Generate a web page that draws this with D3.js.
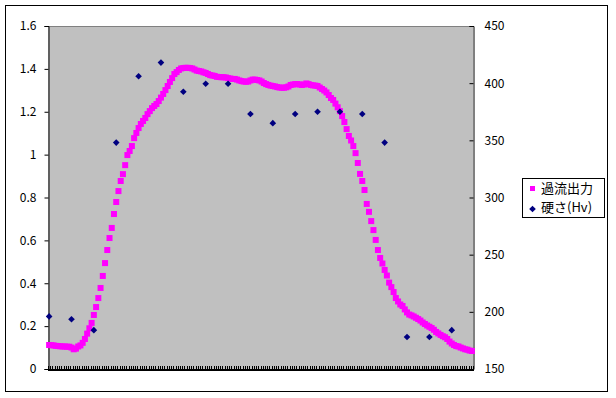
<!DOCTYPE html>
<html>
<head>
<meta charset="utf-8">
<script src="https://cdn.jsdelivr.net/npm/d3@7"></script>
<style>
  body { margin: 0; background: #fff; }
  text { font-family: "Noto Sans CJK JP", "DejaVu Sans", sans-serif; font-size: 12px; fill: #000; }
</style>
</head>
<body>
<div id="chart"></div>
<script>
// eddy current output (left axis), one value per category
const eddyOutput = [
  0.112, 0.111, 0.110, 0.108, 0.107, 0.106, 0.105, 0.105, 0.104, 0.104,
  0.100, 0.092, 0.095, 0.105, 0.110, 0.122, 0.140, 0.165, 0.190, 0.215,
  0.252, 0.289, 0.331, 0.378, 0.434, 0.494, 0.555, 0.611, 0.658, 0.723,
  0.779, 0.830, 0.877, 0.909, 0.951, 0.998, 1.017, 1.040, 1.077, 1.101,
  1.124, 1.143, 1.157, 1.171, 1.189, 1.203, 1.217, 1.227, 1.236, 1.250,
  1.266, 1.283, 1.301, 1.320, 1.339, 1.357, 1.376, 1.385, 1.395, 1.402,
  1.404, 1.405, 1.405, 1.404, 1.402, 1.397, 1.392, 1.390, 1.388, 1.384,
  1.381, 1.376, 1.371, 1.369, 1.367, 1.363, 1.362, 1.361, 1.361, 1.360,
  1.357, 1.355, 1.353, 1.353, 1.350, 1.346, 1.343, 1.341, 1.340, 1.341,
  1.346, 1.350, 1.350, 1.348, 1.346, 1.341, 1.334, 1.329, 1.325, 1.322,
  1.320, 1.318, 1.315, 1.313, 1.312, 1.312, 1.314, 1.318, 1.325, 1.327,
  1.329, 1.329, 1.327, 1.325, 1.327, 1.332, 1.329, 1.325, 1.323, 1.322,
  1.320, 1.313, 1.306, 1.299, 1.290, 1.278, 1.264, 1.255, 1.238, 1.221,
  1.203, 1.180, 1.152, 1.119, 1.087, 1.066, 1.040, 1.007, 0.961, 0.910,
  0.877, 0.835, 0.770, 0.733, 0.690, 0.648, 0.602, 0.555, 0.518, 0.492,
  0.462, 0.436, 0.403, 0.382, 0.359, 0.331, 0.315, 0.301, 0.294, 0.278,
  0.264, 0.254, 0.250, 0.245, 0.239, 0.233, 0.226, 0.217, 0.210, 0.203,
  0.197, 0.191, 0.183, 0.173, 0.166, 0.159, 0.153, 0.148, 0.140, 0.128,
  0.119, 0.112, 0.107, 0.105, 0.100, 0.096, 0.092, 0.090, 0.086, 0.084
];

// hardness (right axis), measured every 10th category
const hardnessIndex = [0, 10, 20, 30, 40, 50, 60, 70, 80, 90, 100, 110, 120, 130, 140, 150, 160, 170, 180];
const hardness = [196, 193.5, 184, 348, 406, 418, 392.5, 399.5, 399.5, 373, 365, 373, 375, 375, 373, 348, 178, 178, 184];

const leftTicks = [0, 0.2, 0.4, 0.6, 0.8, 1, 1.2, 1.4, 1.6];
const rightTicks = [150, 200, 250, 300, 350, 400, 450];
const seriesNames = ["過流出力", "硬さ(Hv)"];

const width = 616;
const height = 398;
const plot = { left: 48, right: 473, top: 26, bottom: 369 };

const svg = d3.select("#chart").append("svg")
  .attr("width", width)
  .attr("height", height);

// outer frame
svg.append("rect")
  .attr("x", 5.5).attr("y", 5.5)
  .attr("width", 602).attr("height", 386)
  .attr("fill", "#fff").attr("stroke", "#000");

// plot area
svg.append("rect")
  .attr("x", plot.left).attr("y", plot.top)
  .attr("width", plot.right - plot.left).attr("height", plot.bottom - plot.top)
  .attr("fill", "#c0c0c0");
svg.append("line")
  .attr("x1", plot.left).attr("x2", plot.right)
  .attr("y1", plot.top + 0.5).attr("y2", plot.top + 0.5)
  .attr("stroke", "#808080");

const categories = d3.range(eddyOutput.length);
const x = d3.scaleBand()
  .domain(categories)
  .range([plot.left, plot.right]);

const yLeft = d3.scaleLinear().domain([0, 1.6]).range([plot.bottom, plot.top]);
const yRight = d3.scaleLinear().domain([150, 450]).range([plot.bottom, plot.top]);

// left axis
const leftAxis = svg.append("g")
  .attr("transform", `translate(${plot.left + 0.5},0)`)
  .call(d3.axisLeft(yLeft).tickValues(leftTicks).tickSize(4).tickPadding(8)
    .tickFormat(d => d3.format("")(d)));
leftAxis.select(".domain").attr("stroke", "#000");
leftAxis.selectAll("text").style("font-size", "12px");

// right axis (ticks point inward)
const rightAxis = svg.append("g")
  .attr("transform", `translate(${plot.right + 0.5},0)`)
  .call(d3.axisRight(yRight).tickValues(rightTicks).tickSize(-4).tickPadding(11));
rightAxis.select(".domain").attr("stroke", "#000");
rightAxis.selectAll("text").style("font-size", "12px").attr("text-anchor", "start");

// bottom category axis, tick at every category boundary, pointing up
const boundaries = categories.map(i => x(i)).concat([plot.right]);
svg.append("g").selectAll("line")
  .data(boundaries)
  .enter().append("line")
  .attr("x1", d => Math.round(d) + 0.5).attr("x2", d => Math.round(d) + 0.5)
  .attr("y1", plot.bottom + 1).attr("y2", plot.bottom - 3)
  .attr("stroke", "#000");
svg.append("line")
  .attr("x1", plot.left).attr("x2", plot.right + 1)
  .attr("y1", plot.bottom + 1).attr("y2", plot.bottom + 1)
  .attr("stroke", "#000").attr("stroke-width", 2);

// eddy current squares
const sq = 6;
svg.append("g").selectAll("rect")
  .data(eddyOutput)
  .enter().append("rect")
  .attr("x", (d, i) => x(i) + x.bandwidth() / 2 - sq / 2)
  .attr("y", d => yLeft(d) - sq / 2)
  .attr("width", sq).attr("height", sq)
  .attr("fill", "#ff00ff");

// hardness diamonds
const diamond = d3.symbol().type(d3.symbolDiamond2).size(28);
svg.append("g").selectAll("path")
  .data(hardness)
  .enter().append("path")
  .attr("d", diamond)
  .attr("transform", (d, i) => `translate(${x(hardnessIndex[i]) + x.bandwidth() / 2},${yRight(d)})`)
  .attr("fill", "#000080");

// legend
const legend = svg.append("g");
legend.append("rect")
  .attr("x", 522.5).attr("y", 178.5)
  .attr("width", 82).attr("height", 39)
  .attr("fill", "#fff").attr("stroke", "#000");
legend.append("rect")
  .attr("x", 530).attr("y", 186)
  .attr("width", 5).attr("height", 5)
  .attr("fill", "#ff00ff");
legend.append("path")
  .attr("d", diamond)
  .attr("transform", "translate(532.5,209)")
  .attr("fill", "#000080");
legend.selectAll("text")
  .data(seriesNames)
  .enter().append("text")
  .attr("x", 541)
  .attr("y", (d, i) => 193 + i * 19)
  .style("font-size", "13px")
  .text(d => d);
</script>
</body>
</html>
